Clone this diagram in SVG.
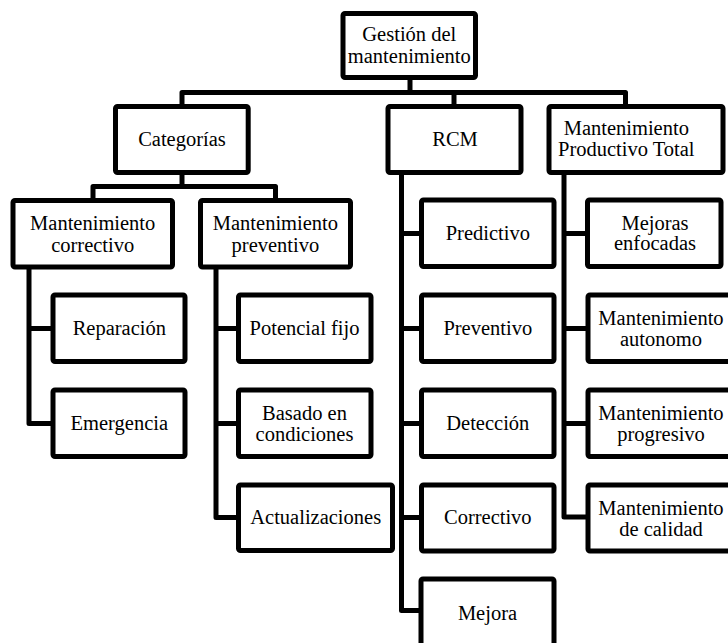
<svg xmlns="http://www.w3.org/2000/svg" width="728" height="643" viewBox="0 0 728 643">
  <style>
    .box { fill: #ffffff; stroke: #000000; stroke-width: 5; }
    .link { fill: none; stroke: #000000; stroke-width: 5; stroke-linejoin: round; }
  </style>
  <rect width="728" height="643" fill="#ffffff"/>

  <!-- connectors -->
  <g id="connectors">
    <path class="link" d="M410,77.5 V92.5"/>
    <path class="link" d="M182,106.5 V92.5 H625.5 V106.5"/>
    <path class="link" d="M454,92.5 V106.5"/>
    <path class="link" d="M182,172.5 V186.5"/>
    <path class="link" d="M93,200.5 V186.5 H275.5 V200.5"/>
    <path class="link" d="M29,267 V423.5 H53 M29,328.5 H53"/>
    <path class="link" d="M216,267 V517.5 H238.5 M216,328.5 H238.5 M216,423.5 H238.5"/>
    <path class="link" d="M401.5,172.5 V610.5 H421.5 M401.5,233.5 H421.5 M401.5,328.5 H421.5 M401.5,423.5 H421.5 M401.5,517.5 H421.5"/>
    <path class="link" d="M564,172.5 V517 H588 M564,233.5 H587.5 M564,328.5 H588 M564,423.5 H588"/>
  </g>

  <g font-family="Liberation Serif, Times New Roman, DejaVu Serif, serif" font-size="20.5" text-anchor="middle" fill="#000000">
  <!-- root -->
  <g id="gestion">
    <rect class="box" x="343" y="13.5" width="132.5" height="64" rx="2"/>
    <text x="409.3" y="40.7">Gestión del</text>
    <text x="409.3" y="63.3">mantenimiento</text>
  </g>

  <!-- first level -->
  <g id="categorias">
    <rect class="box" x="115.5" y="106.5" width="132.7" height="66" rx="2"/>
    <text x="182" y="146">Categorías</text>
  </g>
  <g id="rcm">
    <rect class="box" x="388" y="106.5" width="133" height="66" rx="2"/>
    <text x="455" y="146">RCM</text>
  </g>
  <g id="mpt">
    <rect class="box" x="549" y="106.5" width="174" height="66" rx="2"/>
    <text x="626.3" y="135">Mantenimiento</text>
    <text x="626.3" y="155.7">Productivo Total</text>
  </g>

  <!-- Categorías branch -->
  <g id="m-correctivo">
    <rect class="box" x="13" y="200.5" width="159.5" height="66.5" rx="2"/>
    <text x="92.7" y="230">Mantenimiento</text>
    <text x="92.7" y="251.5">correctivo</text>
  </g>
  <g id="m-preventivo">
    <rect class="box" x="200.5" y="200.5" width="150" height="66.5" rx="2"/>
    <text x="275.4" y="230">Mantenimiento</text>
    <text x="275.4" y="251.5">preventivo</text>
  </g>
  <g id="reparacion">
    <rect class="box" x="53" y="295" width="132" height="66.5" rx="2"/>
    <text x="119.3" y="335">Reparación</text>
  </g>
  <g id="emergencia">
    <rect class="box" x="53" y="390" width="132" height="66.5" rx="2"/>
    <text x="119.3" y="430">Emergencia</text>
  </g>
  <g id="potencial-fijo">
    <rect class="box" x="238.5" y="295" width="132.5" height="66.5" rx="2"/>
    <text x="304.5" y="335">Potencial fijo</text>
  </g>
  <g id="basado-condiciones">
    <rect class="box" x="238.5" y="390" width="132.5" height="66.5" rx="2"/>
    <text x="304.5" y="419.5">Basado en</text>
    <text x="304.5" y="441">condiciones</text>
  </g>
  <g id="actualizaciones">
    <rect class="box" x="238.5" y="485" width="154" height="65.5" rx="2"/>
    <text x="315.7" y="523.5">Actualizaciones</text>
  </g>

  <!-- RCM branch -->
  <g id="predictivo">
    <rect class="box" x="421.5" y="200" width="132.5" height="66.5" rx="2"/>
    <text x="487.8" y="240">Predictivo</text>
  </g>
  <g id="preventivo">
    <rect class="box" x="421.5" y="295" width="132.5" height="66.5" rx="2"/>
    <text x="487.8" y="335">Preventivo</text>
  </g>
  <g id="deteccion">
    <rect class="box" x="421.5" y="390" width="132.5" height="66.5" rx="2"/>
    <text x="487.8" y="430">Detección</text>
  </g>
  <g id="correctivo">
    <rect class="box" x="421.5" y="485" width="132.5" height="66" rx="2"/>
    <text x="487.8" y="524">Correctivo</text>
  </g>
  <g id="mejora">
    <rect class="box" x="421" y="579" width="133" height="90" rx="2"/>
    <text x="487.5" y="620">Mejora</text>
  </g>

  <!-- Mantenimiento Productivo Total branch -->
  <g id="mejoras-enfocadas">
    <rect class="box" x="587.5" y="200" width="133.5" height="66.5" rx="2"/>
    <text x="655" y="230">Mejoras</text>
    <text x="655" y="250">enfocadas</text>
  </g>
  <g id="m-autonomo">
    <rect class="box" x="588" y="295" width="150" height="66.5" rx="2"/>
    <text x="661" y="325">Mantenimiento</text>
    <text x="661" y="346">autonomo</text>
  </g>
  <g id="m-progresivo">
    <rect class="box" x="588" y="390" width="150" height="66.5" rx="2"/>
    <text x="661" y="420">Mantenimiento</text>
    <text x="661" y="441">progresivo</text>
  </g>
  <g id="m-calidad">
    <rect class="box" x="588" y="485" width="150" height="66" rx="2"/>
    <text x="661" y="514.5">Mantenimiento</text>
    <text x="661" y="535.5">de calidad</text>
  </g>
  </g>
</svg>
